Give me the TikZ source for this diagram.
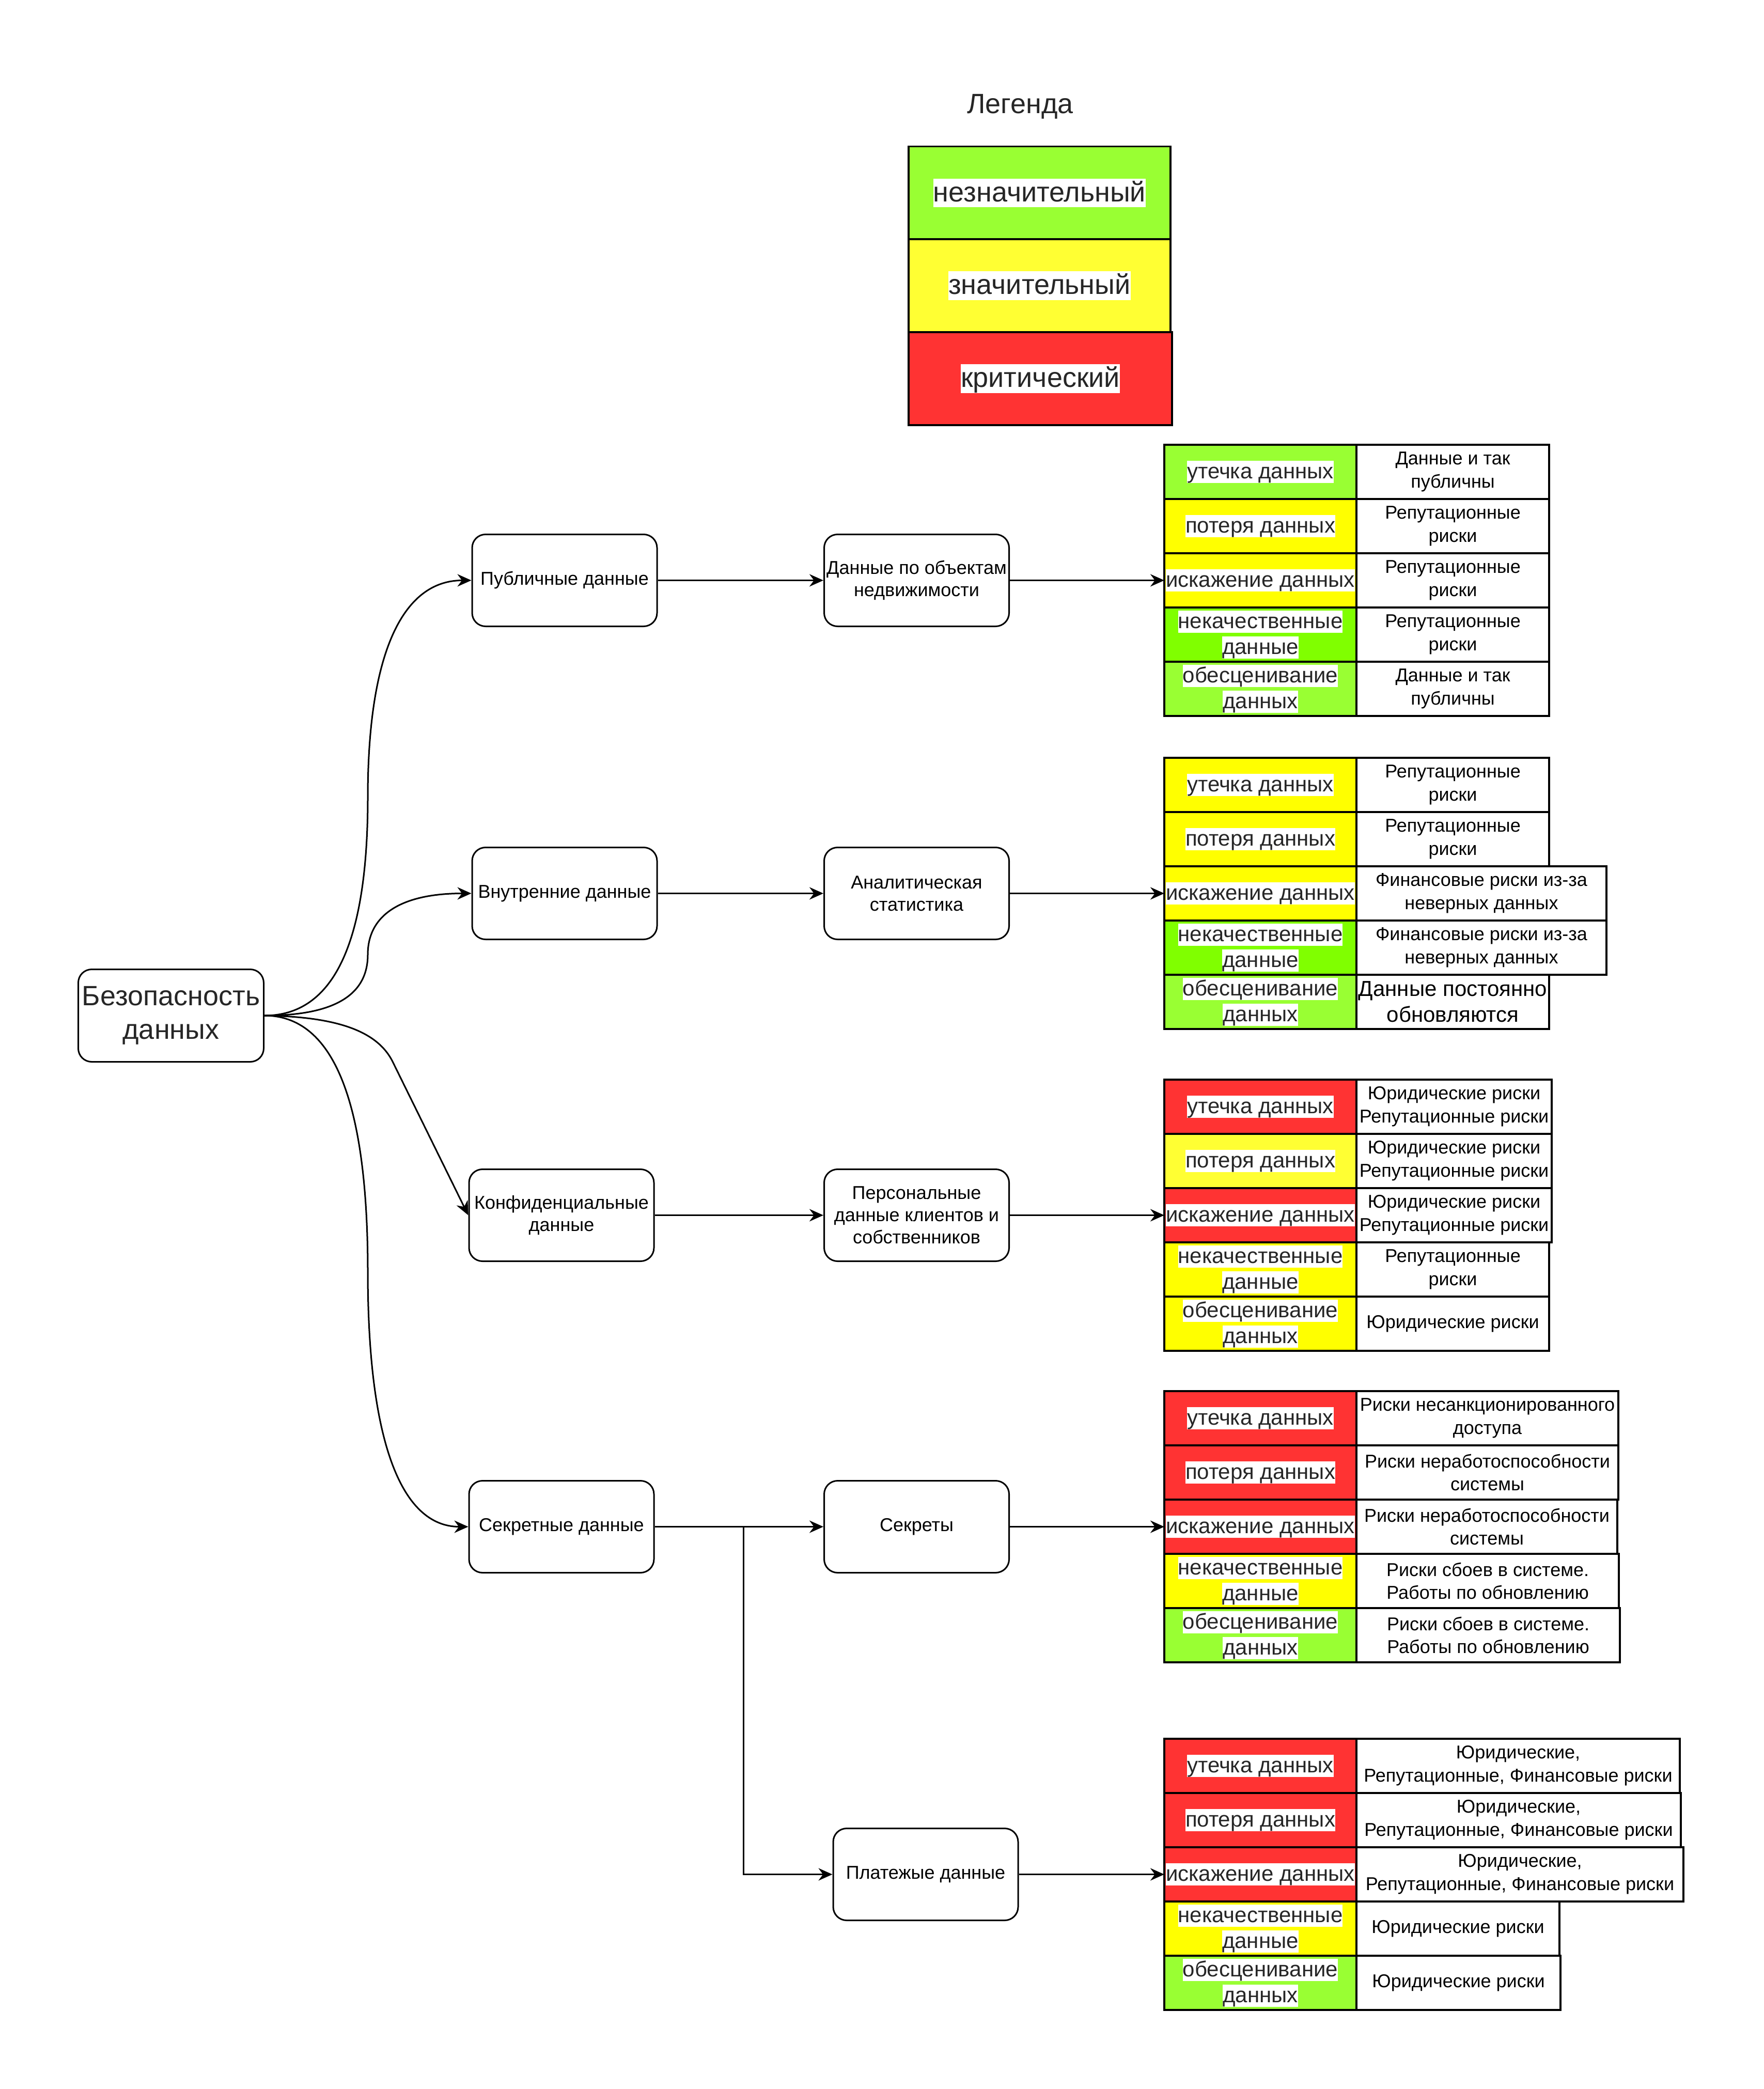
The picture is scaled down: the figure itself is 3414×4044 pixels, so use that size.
\documentclass[tikz,border=0pt]{standalone}
\usepackage{fontspec}
\setmainfont{Liberation Sans}
\usetikzlibrary{arrows.meta}
\definecolor{lgreen}{HTML}{99FF33}
\definecolor{bgreen}{HTML}{80FF00}
\definecolor{lyellow}{HTML}{FFFF33}
\definecolor{cyellow}{HTML}{FFFF00}
\definecolor{cred}{HTML}{FF3333}
\definecolor{dtext}{HTML}{262626}
\newcommand\hl[1]{{\setlength{\fboxsep}{0pt}\colorbox{white}{\vrule height 0.82em depth 0.2em width 0pt #1}}}
\newcommand\lA{\hl{утечка данных}}
\newcommand\lB{\hl{потеря данных}}
\newcommand\lC{\hl{искажение данных}}
\newcommand\lD{\hl{некачественные}\\\hl{данные}}
\newcommand\lE{\hl{обесценивание}\\\hl{данных}}
\newcommand\riskrow[6]{%
  \node[lcell, fill=#3] (#1l) at (2254,#2) {#4};
  \node[rcell, minimum width=#5] (#1r) at (2626,#2) {#6};}
\begin{document}
\begin{tikzpicture}[x=0.25pt,y=-0.25pt,
  box/.style={draw, line width=0.75pt, rounded corners=6.5pt, minimum width=89.5pt, minimum height=44.5pt, inner sep=1pt, align=center, font=\fontsize{9}{10.8}\selectfont},
  rootbox/.style={box, minimum width=89.75pt, minimum height=44.75pt, text=dtext, font=\fontsize{13.5}{16.2}\selectfont},
  conn/.style={line width=0.75pt, -{Stealth[length=6.75pt,width=6pt,inset=2.2pt]}},
  lcell/.style={draw, line width=0.9pt, outer sep=0pt, minimum width=93pt, minimum height=26.25pt, inner sep=0pt, anchor=north west, align=center, text=dtext, font=\fontsize{10.5}{12.6}\selectfont},
  rcell/.style={draw, line width=0.9pt, outer sep=0pt, fill=white, minimum height=26.25pt, inner sep=0pt, anchor=north west, align=center, font=\fontsize{9}{11.2}\selectfont},
  legcell/.style={draw, line width=0.9pt, minimum width=126.75pt, minimum height=45pt, inner sep=0pt, text=dtext, font=\fontsize{13.5}{16.2}\selectfont}
]
\useasboundingbox (0,0) rectangle (3414,4044);

% Legend
\node[text=dtext, font=\fontsize{13.5}{16.2}\selectfont] (legtitle) at (1975,206) {Легенда};
\node[legcell, fill=lgreen] (leg1) at (2012.5,373.5) {\hl{незначительный}};
\node[legcell, fill=lyellow] (leg2) at (2012.5,553) {\hl{значительный}};
\node[legcell, fill=cred, minimum width=127.5pt] (leg3) at (2014,733) {\hl{критический}};

% Main nodes
\node[rootbox] (root) at (331,1966) {Безопасность\\данных};
\node[box] (pub) at (1093,1123.5) {Публичные данные};
\node[box] (vnu) at (1093,1729.5) {Внутренние данные};
\node[box] (konf) at (1087,2352.5) {Конфиденциальные\\данные};
\node[box] (sekd) at (1087,2955.5) {Секретные данные};
\node[box] (m1) at (1774.5,1123.5) {Данные по объектам\\недвижимости};
\node[box] (m2) at (1774.5,1729.5) {Аналитическая\\статистика};
\node[box] (m3) at (1774.5,2352.5) {Персональные\\данные клиентов и\\собственников};
\node[box] (m4) at (1774.5,2955.5) {Секреты};
\node[box] (m5) at (1792,3628.5) {Платежые данные};

% Table 1
\riskrow{t1a}{861}{lgreen}{\lA}{93.25pt}{Данные и так\\публичны}
\riskrow{t1b}{966}{cyellow}{\lB}{93.25pt}{Репутационные\\риски}
\riskrow{t1c}{1071}{cyellow}{\lC}{93.25pt}{Репутационные\\риски}
\riskrow{t1d}{1176}{bgreen}{\lD}{93.25pt}{Репутационные\\риски}
\riskrow{t1e}{1281}{lgreen}{\lE}{93.25pt}{Данные и так\\публичны}

% Table 2
\riskrow{t2a}{1467}{cyellow}{\lA}{93.25pt}{Репутационные\\риски}
\riskrow{t2b}{1572}{cyellow}{\lB}{93.25pt}{Репутационные\\риски}
\riskrow{t2c}{1677}{cyellow}{\lC}{121pt}{Финансовые риски из-за\\неверных данных}
\riskrow{t2d}{1782}{bgreen}{\lD}{121pt}{Финансовые риски из-за\\неверных данных}
\node[lcell, fill=lgreen] (t2el) at (2254,1887) {\lE};
\node[rcell, minimum width=93.25pt, font=\fontsize{10.5}{12.6}\selectfont] (t2er) at (2626,1887) {Данные постоянно\\обновляются};

% Table 3
\riskrow{t3a}{2090}{cred}{\lA}{94.5pt}{Юридические риски\\Репутационные риски}
\riskrow{t3b}{2195}{lyellow}{\lB}{94.5pt}{Юридические риски\\Репутационные риски}
\riskrow{t3c}{2300}{cred}{\lC}{94.5pt}{Юридические риски\\Репутационные риски}
\riskrow{t3d}{2405}{cyellow}{\lD}{93.25pt}{Репутационные\\риски}
\riskrow{t3e}{2510}{cyellow}{\lE}{93.25pt}{Юридические риски}

% Table 4
\riskrow{t4a}{2693}{cred}{\lA}{126.75pt}{Риски несанкционированного\\доступа}
\riskrow{t4b}{2798}{cred}{\lB}{126.75pt}{Риски неработоспособности\\системы}
\riskrow{t4c}{2903}{cred}{\lC}{126.25pt}{Риски неработоспособности\\системы}
\riskrow{t4d}{3008}{cyellow}{\lD}{127pt}{Риски сбоев в системе.\\Работы по обновлению}
\riskrow{t4e}{3113}{lgreen}{\lE}{127.5pt}{Риски сбоев в системе.\\Работы по обновлению}

% Table 5
\riskrow{t5a}{3366}{cred}{\lA}{156.5pt}{Юридические,\\Репутационные, Финансовые риски}
\riskrow{t5b}{3471}{cred}{\lB}{157pt}{Юридические,\\Репутационные, Финансовые риски}
\riskrow{t5c}{3576}{cred}{\lC}{158.25pt}{Юридические,\\Репутационные, Финансовые риски}
\riskrow{t5d}{3681}{cyellow}{\lD}{98.25pt}{Юридические риски}
\riskrow{t5e}{3786}{lgreen}{\lE}{98.75pt}{Юридические риски}

% Connectors from root
\draw[conn] (root.east) .. controls (646,1966) and (712,1825) .. (712,1544)
  .. controls (712,1263) and (780,1123.5) .. (pub.west);
\draw[conn] (root.east) .. controls (646,1966) and (712,1927) .. (712,1848)
  .. controls (712,1769) and (780,1729.5) .. (vnu.west);
\draw[conn] (root.east) .. controls (650,1968) and (730,1995) .. (760,2055) -- (konf.west);
\draw[conn] (root.east) .. controls (645,1966) and (712,2131) .. (712,2461)
  .. controls (712,2791) and (777,2955.5) .. (sekd.west);

% Category to item
\draw[conn] (pub.east) -- (m1.west);
\draw[conn] (vnu.east) -- (m2.west);
\draw[conn] (konf.east) -- (m3.west);
\draw[conn] (sekd.east) -- (m4.west);
\coordinate (junc) at (1439,2955.5);
\draw[conn] (sekd.east) -- (junc) |- (m5.west);

% Item to table
\draw[conn] (m1.east) -- (t1cl.west);
\draw[conn] (m2.east) -- (t2cl.west);
\draw[conn] (m3.east) -- (t3cl.west);
\draw[conn] (m4.east) -- (t4cl.west);
\draw[conn] (m5.east) -- (t5cl.west);
\end{tikzpicture}
\end{document}
